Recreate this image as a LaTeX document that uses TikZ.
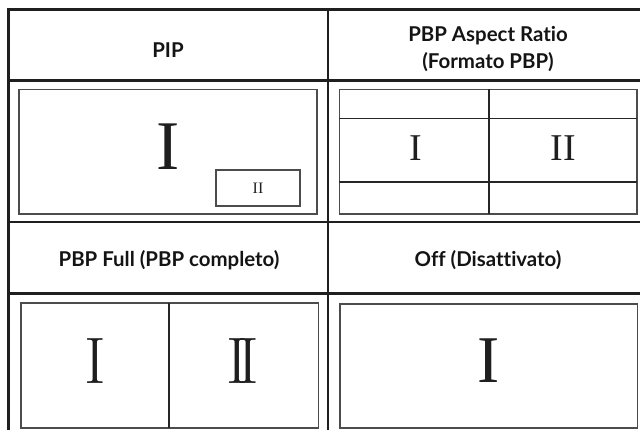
\documentclass[tikz,border=0pt]{standalone}
\usepackage{fontspec}
\setsansfont[Ligatures=NoCommon]{Lato}
\newfontfamily\numfont{Liberation Serif}
\tikzset{
  grid/.style={line width=2.8bp, draw=black!88},
  inner/.style={line width=1.6bp, draw=black!70},
  divider/.style={line width=1.6bp, draw=black!85},
  head/.style={font=\sffamily\bfseries\fontsize{20.5}{27}\selectfont, align=center, text=black!92},
  num/.style={text=black!88, inner sep=0pt},
}
\begin{document}
\begin{tikzpicture}[x=1bp,y=-1bp]
\useasboundingbox (0,0) rectangle (640,429);
\clip (0,0) rectangle (640,429);
% outer grid
\draw[grid] (8.7,9.5) -- (660,9.5);
\draw[grid] (8.7,8) -- (8.7,440);
\draw[grid] (328,8) -- (328,440);
\draw[grid] (8.7,80.7) -- (660,80.7);
\draw[grid] (8.7,222) -- (660,222);
\draw[grid] (8.7,293.3) -- (660,293.3);
% headers
\node[head] (hpip) at (168,50) {PIP};
\node[head] (hpbpa) at (488,49) {PBP Aspect Ratio\\(Formato PBP)};
\node[head] (hpbpf) at (169,260) {PBP Full (PBP completo)};
\node[head] (hoff) at (488,260) {Off (Disattivato)};
% PIP
\draw[inner] (19,89.3) rectangle (316.7,214);
\draw[inner] (216,170) rectangle (300,205.7);
\node[num, font=\numfont\fontsize{70}{70}\selectfont] (pipI) at (168,147) {I};
\node[num, font=\numfont\fontsize{16}{16}\selectfont] (pipII) at (258,188) {II};
% PBP aspect ratio
\draw[inner] (339.3,89.3) rectangle (637,214);
\draw[divider] (339.3,118.3) -- (637,118.3);
\draw[divider] (339.3,181.7) -- (637,181.7);
\draw[divider] (489,89.3) -- (489,214);
\node[num, font=\numfont\fontsize{38}{38}\selectfont] (paI) at (416,148) {I};
\node[num, font=\numfont\fontsize{38}{38}\selectfont] (paII) at (563,148) {II};
% PBP full
\draw[inner] (21,302.7) rectangle (318.3,428);
\draw[divider] (169,302.7) -- (169,428);
\node[num, font=\fontsize{66}{66}\selectfont] (pfI) at (95,361) {I};
\node[num, font=\fontsize{66}{66}\selectfont] (pfII) at (243,361) {I\kern-0.16em I};
% Off
\draw[inner] (340,304) rectangle (637.3,428);
\node[num, font=\numfont\fontsize{67}{67}\selectfont] (offI) at (489,361) {I};
\end{tikzpicture}
\end{document}
